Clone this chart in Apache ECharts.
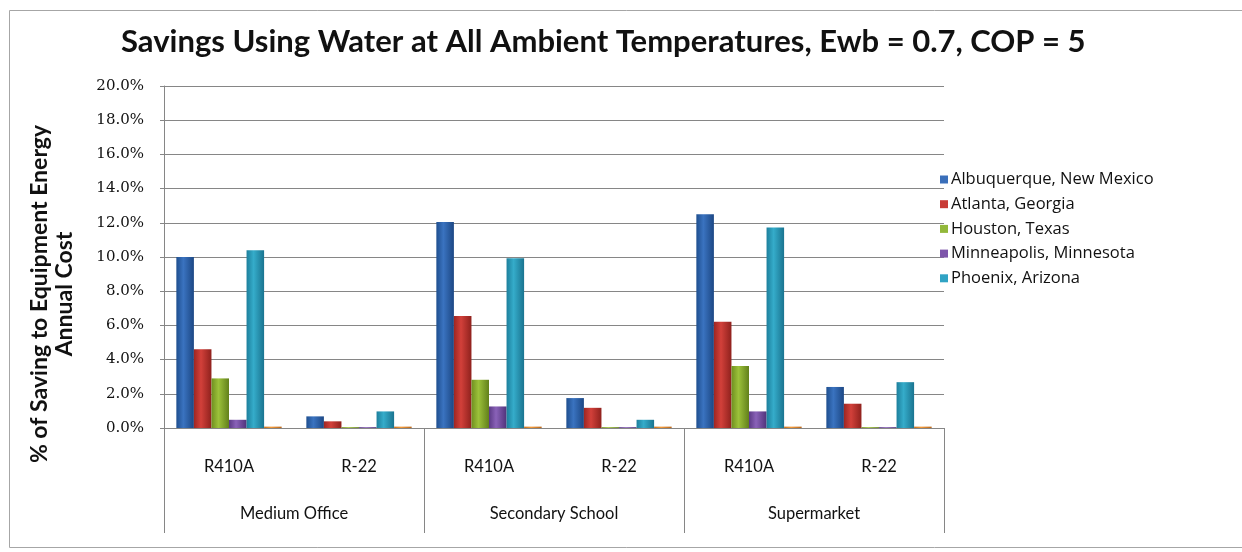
<!DOCTYPE html>
<html>
<head>
<meta charset="utf-8">
<script src="https://cdn.jsdelivr.net/npm/echarts@6/dist/echarts.min.js"></script>
<style>html,body{margin:0;padding:0;background:#fff}#c{width:1242px;height:552px}</style>
</head>
<body>
<div id="c"></div>
<script>
// ---- data ----
const categories = ['R410A', 'R-22', 'R410A', 'R-22', 'R410A', 'R-22'];
const groups = ['Medium Office', 'Secondary School', 'Supermarket'];
const seriesNames = ['Albuquerque, New Mexico', 'Atlanta, Georgia', 'Houston, Texas', 'Minneapolis, Minnesota', 'Phoenix, Arizona', 'Series6'];
const albuquerque = [10.0, 0.68, 12.05, 1.75, 12.5, 2.4];
const atlanta = [4.6, 0.39, 6.55, 1.18, 6.22, 1.42];
const houston = [2.9, 0.05, 2.82, 0.05, 3.63, 0.05];
const minneapolis = [0.48, 0.05, 1.26, 0.05, 0.97, 0.05];
const phoenix = [10.4, 0.97, 9.92, 0.48, 11.72, 2.68];
const series6 = [0.08, 0.08, 0.08, 0.08, 0.08, 0.08];
const yTicks = [0, 2, 4, 6, 8, 10, 12, 14, 16, 18, 20];

const values = [albuquerque, atlanta, houston, minneapolis, phoenix, series6];
const baseColors = [
  ['#1f4f8f', '#3a73c0', '#1c4784'],
  ['#9e2622', '#d2403a', '#8f211d'],
  ['#6f8f20', '#9cc13a', '#62801a'],
  ['#5b3a85', '#8a62b8', '#51337a'],
  ['#1d7f9c', '#35acca', '#1a7490'],
  ['#c8701c', '#f39a3a', '#b8661a']
];
const legendColors = ['#3a6fba', '#c83a35', '#92b83a', '#7d55aa', '#30a3c4', '#f0902e'];

function grad(c) {
  return new echarts.graphic.LinearGradient(0, 0, 1, 0, [
    {offset: 0, color: c[0]}, {offset: 0.4, color: c[1]}, {offset: 1, color: c[2]}
  ]);
}

const chart = echarts.init(document.getElementById('c'), null, {renderer: 'canvas'});
const sans = "Lato, 'Open Sans', sans-serif";

chart.setOption({
  animation: false,
  backgroundColor: '#ffffff',
  title: {
    text: 'Savings Using Water at All Ambient Temperatures, Ewb = 0.7, COP = 5',
    left: 116,
    top: 21,
    textStyle: {fontFamily: sans, fontSize: 31, fontWeight: 'bold', color: '#111'}
  },
  legend: {
    orient: 'vertical',
    left: 935,
    top: 166,
    itemWidth: 8,
    itemHeight: 8,
    itemGap: 7.7,
    icon: 'rect',
    data: seriesNames.slice(0, 5).map((n, i) => ({name: n, itemStyle: {color: legendColors[i]}})),
    textStyle: {fontFamily: "'Open Sans', sans-serif", fontSize: 16.5, color: '#111', lineHeight: 16, padding: [0, 0, 0, -2]}
  },
  graphic: [
    {
      type: 'rect', silent: true, z: -1,
      shape: {x: 9.5, y: 10.5, width: 1240, height: 537},
      style: {fill: 'none', stroke: '#a6a6a6', lineWidth: 1}
    },
    {
      type: 'text', silent: true,
      x: 52, y: 294, rotation: Math.PI / 2,
      style: {
        text: '% of Saving to Equipment Energy\nAnnual Cost',
        fontFamily: sans, fontSize: 23, fontWeight: 'bold', fill: '#111',
        align: 'center', verticalAlign: 'middle', lineHeight: 25
      }
    }
  ],
  grid: {left: 164, right: 298, top: 86, bottom: 124, containLabel: false},
  xAxis: [
    {
      type: 'category',
      data: categories,
      position: 'bottom',
      axisLine: {show: true, lineStyle: {color: '#868686', width: 1}},
      axisTick: {show: false},
      axisLabel: {margin: 30, fontFamily: sans, fontSize: 16.5, color: '#111', interval: 0}
    },
    {
      type: 'category',
      data: groups,
      position: 'bottom',
      axisLine: {show: false},
      axisTick: {show: true, length: 105, interval: 0, lineStyle: {color: '#868686', width: 1}},
      axisLabel: {margin: 77, fontFamily: sans, fontSize: 16.5, color: '#111', interval: 0},
      splitLine: {show: false}
    }
  ],
  yAxis: {
    type: 'value',
    min: yTicks[0],
    max: yTicks[yTicks.length - 1],
    interval: yTicks[1] - yTicks[0],
    axisLine: {show: true, lineStyle: {color: '#868686', width: 1}},
    axisTick: {show: true, length: 4, lineStyle: {color: '#868686'}},
    axisLabel: {
      margin: 20,
      fontFamily: "'DejaVu Serif', serif",
      fontSize: 15,
      color: '#111',
      formatter: v => v.toFixed(1) + '%'
    },
    splitLine: {show: true, lineStyle: {color: '#868686', width: 1}}
  },
  series: values.map((d, i) => ({
    name: seriesNames[i],
    type: 'bar',
    xAxisIndex: 0,
    data: d,
    barGap: '0%',
    barCategoryGap: '19%',
    itemStyle: {color: grad(baseColors[i])}
  }))
});
</script>
</body>
</html>
